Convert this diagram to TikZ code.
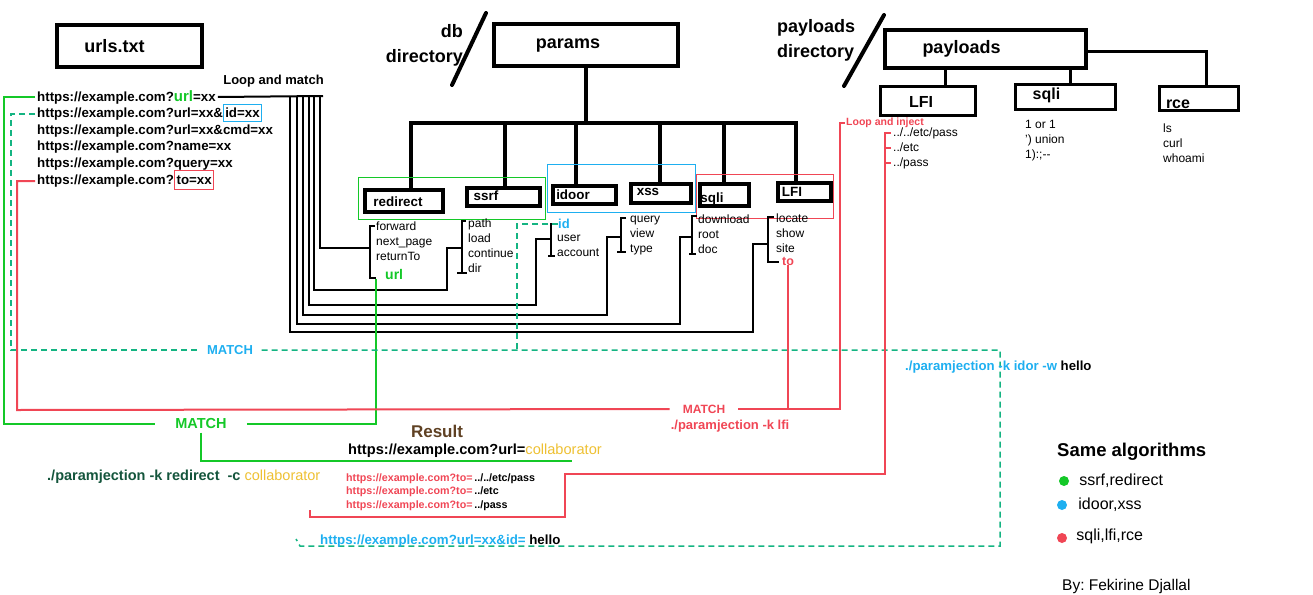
\documentclass[tikz,border=0pt]{standalone}
\usepackage{fontspec}
\setmainfont{Liberation Sans}
\usetikzlibrary{positioning}

\definecolor{gcol}{RGB}{20,200,40}
\definecolor{bcol}{RGB}{30,175,240}
\definecolor{rcol}{RGB}{240,70,85}
\definecolor{tcol}{RGB}{20,180,130}
\definecolor{ycol}{RGB}{238,192,50}
\definecolor{brcol}{RGB}{95,65,35}
\definecolor{dgcol}{RGB}{20,85,60}

\begin{document}
\begin{tikzpicture}[
    x=1pt, y=-1pt,
    bigbox/.style={draw,line width=4pt,inner sep=0pt},
    paybox/.style={draw,line width=3pt,inner sep=0pt},
    boxtxt/.style={font=\fontsize{18}{20}\selectfont\bfseries},
    dirtxt/.style={inner sep=0pt,font=\fontsize{18}{25}\selectfont\bfseries},
    paytxt/.style={font=\fontsize{16}{18}\selectfont\bfseries},
    cattxt/.style={font=\fontsize{13.4}{15}\selectfont\bfseries},
    urlline/.style={anchor=west,inner sep=0pt,font=\fontsize{13.3}{15}\selectfont\bfseries},
    plist/.style={anchor=west,inner sep=0pt,align=left,font=\fontsize{12}{15}\selectfont},
    legtxt/.style={inner sep=0pt,font=\fontsize{16}{18}\selectfont},
    tree/.style={line width=4pt},
    brk/.style={line width=2.5pt},
    loopline/.style={line width=2pt},
    gline/.style={draw=gcol,line width=2pt},
    rline/.style={draw=rcol,line width=2pt},
    tline/.style={draw=tcol,line width=1.5pt,dash pattern=on 6pt off 4pt},
    grp/.style={line width=1pt}
  ]
\useasboundingbox (0,0) rectangle (1313,594);

% main boxes
\node[bigbox,minimum width=145pt,minimum height=42pt,label={[boxtxt,xshift=-15pt]center:urls.txt}] (urls) at (129.5,46) {};
\node[bigbox,minimum width=184pt,minimum height=42pt,label={[boxtxt,xshift=-18pt,yshift=-1pt]center:params}] (params) at (586,45) {};
\node[bigbox,minimum width=201pt,minimum height=38pt,label={[boxtxt,xshift=-24pt]center:payloads}] (payloads) at (985.5,49) {};
\node[dirtxt,align=right,anchor=east] (dbdir) at (463,45.5) {db\\directory};
\node[dirtxt,align=left,anchor=west] (paydir) at (777,40.5) {payloads\\directory};
\draw[line width=4pt,line cap=round] (486,13) -- (452,85);
\draw[line width=4pt,line cap=round] (884,15) -- (844,86);

% payload boxes
\node[paybox,minimum width=95pt,minimum height=29pt,label={[paytxt,xshift=-7pt,yshift=-1pt]center:LFI}] (plfi) at (928,101) {};
\node[paybox,minimum width=100pt,minimum height=25pt,label={[paytxt,xshift=-19pt,yshift=2pt]center:sqli}] (psqli) at (1065.5,97) {};
\node[paybox,minimum width=79pt,minimum height=24pt,label={[paytxt,xshift=-21pt,yshift=-5.5pt]center:rce}] (prce) at (1199,98.5) {};
\draw[tree,line width=3pt] (payloads.south -| 945,0) -- (plfi.north -| 945,0);
\draw[tree,line width=3pt] (payloads.south -| 1070,0) -- (psqli.north -| 1070,0);
\draw[tree,line width=3pt] (payloads.east |- 0,52) -| ([xshift=7pt]prce.north);
\node[plist] (plfilist) at (893,148) {../../etc/pass\\../etc\\../pass};
\node[plist] (psqlilist) at (1025,141) {1 or 1\\') union\\1):;-{}-};
\node[plist] (prcelist) at (1163,143) {ls\\curl\\whoami};

% category boxes
\node[bigbox,minimum width=78pt,minimum height=22pt,label={[cattxt,xshift=-6pt,yshift=-1pt]center:redirect}] (redirect) at (404,201) {};
\node[bigbox,minimum width=73pt,minimum height=18pt,label={[cattxt,xshift=-17.5pt,yshift=1pt]center:ssrf}] (ssrf) at (503.5,197) {};
\node[bigbox,minimum width=63pt,minimum height=18pt,label={[cattxt,xshift=-11.5pt]center:idoor}] (idoor) at (584.5,195) {};
\node[bigbox,minimum width=60pt,minimum height=19pt,label={[cattxt,xshift=-13pt,yshift=1.5pt]center:xss}] (xss) at (661,193.5) {};
\node[bigbox,minimum width=49pt,minimum height=22pt,label={[cattxt,xshift=-12.5pt,yshift=-4pt]center:sqli}] (sqli) at (724.5,195) {};
\node[bigbox,minimum width=53pt,minimum height=18pt,label={[cattxt,xshift=-12.5pt]center:LFI}] (lfi) at (804.5,192) {};
\coordinate (hub) at (586,123);
\draw[tree] (params.south) -- (hub);
\foreach \n/\dx in {redirect/7,ssrf/1.5,idoor/-8.5,xss/-1,sqli/-0.5,lfi/-8.5}
  \draw[tree] ([xshift=\dx pt]\n.north) |- (hub);
\draw[grp,draw=gcol] (358,177) rectangle (545,219);
\draw[grp,draw=bcol] (547,164) rectangle (695,212);
\draw[grp,draw=rcol] (696,174) rectangle (833,218);

% parameter lists
\node[plist] (redlist) at (376,241) {forward\\next\_page\\returnTo};
\node[plist,text=gcol,font=\fontsize{14}{15}\selectfont\bfseries] (redurl) at (385,274) {url};
\node[plist] (ssrflist) at (468,246) {path\\load\\continue\\dir};
\node[plist,text=bcol,font=\fontsize{13}{15}\selectfont\bfseries] (idname) at (558,224) {id};
\node[plist] (idlist) at (557,245.5) {user\\account};
\node[plist] (xsslist) at (630,236) {query\\view\\type};
\node[plist] (sqlilist) at (698,234) {download\\root\\doc};
\node[plist] (lfilist) at (776,233) {locate\\show\\site};
\node[plist,text=rcol,font=\fontsize{12.5}{15}\selectfont\bfseries] (lfito) at (782,261) {to};
\draw[brk] (375,226) -- (370,226) -- (370,278) -- (376,278);
\draw[brk] (466,221) -- (462,221) -- (462,273) (457,273) -- (467,273);
\draw[brk] (556,224) -- (551,224) -- (551,256) (548,256) -- (555,256);
\draw[brk] (626,218) -- (621,218) -- (621,252) (617,252) -- (626,252);
\draw[brk] (697,216) -- (692,216) -- (692,254) (689,254) -- (696,254);
\draw[brk] (774,217) -- (768,217) -- (768,262) -- (779,262);

% urls
\node[urlline] (url1) at (37,97) {https://example.com?\textcolor{gcol}{\fontsize{15}{15}\selectfont url}=xx};
\node[urlline] (url2) at (37,114) {https://example.com?url=xx\&};
\node[urlline,anchor=base west,draw=bcol,line width=1pt,inner xsep=1.5pt,inner ysep=3.5pt] (url2id) at (url2.base east) {id=xx};
\node[urlline] (url3) at (37,131) {https://example.com?url=xx\&cmd=xx};
\node[urlline] (url4) at (37,147) {https://example.com?name=xx};
\node[urlline] (url5) at (37,164) {https://example.com?query=xx};
\node[urlline] (url6) at (37,181) {https://example.com?};
\node[urlline,anchor=base west,draw=rcol,line width=1pt,inner xsep=2pt,inner ysep=5pt] (url6to) at (url6.base east) {to=xx};

% loop and match
\node[font=\fontsize{13}{15}\selectfont\bfseries] (loopmatch) at (273.5,81) {Loop and match};
\draw[loopline] ([xshift=2pt]url1.east) -- (323,96);
\foreach \lx/\ly/\ux/\by/\ex in {320/248/340/248/370, 314/290/447/248/462, 309/305/536/239/551, 303/315/607/237/621, 297/324/680/237/692, 290/332/753/244/768}
  \draw[loopline] (\lx,96) |- (\ux,\ly) |- (\ex,\by);

% redirect match
\node[text=gcol,font=\fontsize{14.5}{16}\selectfont\bfseries,inner xsep=20pt] (gmatch) at (201,424) {MATCH};
\coordinate (gend) at (572,461);
\draw[gline] ([xshift=-2pt]url1.west) -| (4,424) -- (gmatch.west);
\draw[gline] (gmatch.east) -| ([xshift=-9pt]redurl.south west);
\draw[gline] (gmatch.south) |- (gend);
\node[text=brcol,font=\fontsize{17}{19}\selectfont\bfseries] (result) at (437,431) {Result};
\node[urlline,font=\fontsize{14.6}{16}\selectfont\bfseries] (resurl) at (348,451) {https://example.com?url=\textcolor{ycol}{\mdseries collaborator}};
\node[urlline,text=dgcol,font=\fontsize{14.5}{16}\selectfont\bfseries] (redcmd) at (47,477) {./paramjection -k redirect\hspace{8pt}-c \textcolor{ycol}{\mdseries collaborator}};

% idor match
\node[text=bcol,font=\fontsize{13}{15}\selectfont\bfseries,inner xsep=8.5pt] (bmatch) at (230,350) {MATCH};
\draw[tline] ([xshift=-2pt]url2.west) -| (11,350) -- (bmatch.west);
\draw[tline] (bmatch.east) -- (1000,350) |- (300,546) -- (296,539);
\draw[tline] (idname.west) -| (517,350);
\node[urlline,text=bcol,font=\fontsize{13.2}{15}\selectfont\bfseries] (idorcmd) at (905,367) {./paramjection -k idor -w \textcolor{black}{hello}};
\node[urlline,text=bcol] (idurl) at (320,541) {https://example.com?url=xx\&id= \textcolor{black}{hello}};

% lfi match
\node[text=rcol,font=\fontsize{12}{14}\selectfont\bfseries,inner xsep=13pt] (rmatch) at (704,409) {MATCH};
\node[plist,text=rcol,font=\fontsize{10.5}{12}\selectfont\bfseries,inner xsep=1pt] (loopinj) at (845,123) {Loop and inject};
\draw[rline] ([xshift=-2pt]url6.west) -| (17,410) -- (rmatch.west);
\draw[rline] (rmatch.east) -| (840,123) -- (loopinj.west);
\draw[rline] (lfito.south) -- (lfito.south |- rmatch.east);
\node[text=rcol,font=\fontsize{13}{15}\selectfont\bfseries] (lficmd) at (730,426) {./paramjection -k lfi};
\draw[rline] (891,133) -- (885,133) -- (885,474) -| (565,517) -| (310,510);
\foreach \y in {148,163}
  \draw[rline] (885,\y) -- (891,\y);
\node[plist,font=\fontsize{10.7}{13.5}\selectfont\bfseries] (lfiurls) at (346,492) {\textcolor{rcol}{https://example.com?to=}\,../../etc/pass\\\textcolor{rcol}{https://example.com?to=}\,../etc\\\textcolor{rcol}{https://example.com?to=}\,../pass};

% legend
\node[urlline,font=\fontsize{18.5}{20}\selectfont\bfseries] (samealg) at (1057,452) {Same algorithms};
\node[circle,fill=gcol,inner sep=0pt,minimum size=10pt] (gdot) at (1064,481) {};
\node[circle,fill=bcol,inner sep=0pt,minimum size=10pt] (bdot) at (1062,505) {};
\node[circle,fill=rcol,inner sep=0pt,minimum size=10pt] (rdot) at (1062,538) {};
\node[legtxt,right=10pt of gdot] (gleg) {ssrf,redirect};
\node[legtxt,right=11pt of bdot] (bleg) {idoor,xss};
\node[legtxt,right=9pt of rdot,yshift=2pt] (rleg) {sqli,lfi,rce};
\node[legtxt,anchor=west,font=\fontsize{15.5}{17}\selectfont] (author) at (1062,586) {By:\ Fekirine Djallal};
\end{tikzpicture}
\end{document}
